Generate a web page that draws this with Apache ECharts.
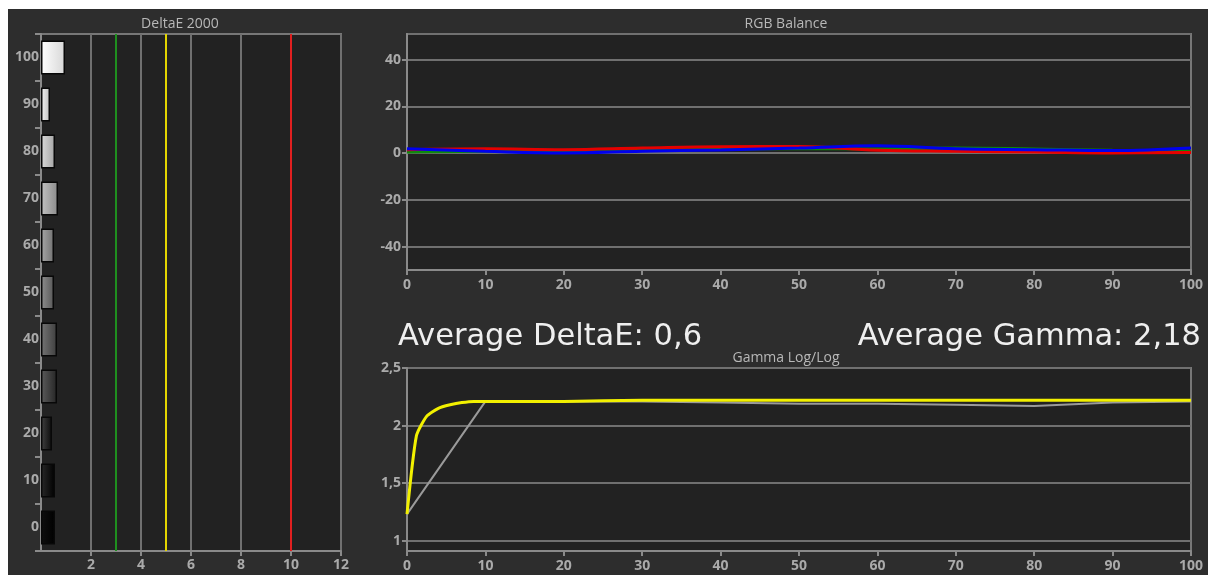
<!DOCTYPE html>
<html>
<head>
<meta charset="utf-8">
<script src="https://cdn.jsdelivr.net/npm/echarts@6/dist/echarts.min.js"></script>
<style>
  html, body { margin: 0; padding: 0; background: #ffffff; }
  #bg { position: absolute; left: 8px; top: 9px; width: 1200px; height: 566px; background: #2d2d2d; }
  #chart { position: absolute; left: 0; top: 0; width: 1208px; height: 575px; }
</style>
</head>
<body>
<div id="bg"></div>
<div id="chart"></div>
<script>
// ---- Data ----
const grayLevels = ['0', '10', '20', '30', '40', '50', '60', '70', '80', '90', '100'];
const deltaE = [0.56, 0.56, 0.44, 0.64, 0.64, 0.52, 0.52, 0.68, 0.56, 0.36, 0.96];
const deltaEThresholds = [3, 5, 10];

const rgbX = [0, 10, 20, 30, 40, 50, 60, 70, 80, 90, 100];
const rgbRed = [1.5, 1.9, 1.5, 2.2, 2.8, 2.9, 1.2, 0.8, 0.5, 0.1, 0.3];
const rgbGreen = [0.5, 0.8, 0.9, 1.3, 1.7, 2.0, 1.8, 2.2, 1.8, 1.2, 0.8];
const rgbBlue = [1.9, 0.8, 0.1, 0.8, 1.4, 2.2, 3.2, 1.9, 1.5, 1.1, 2.2];

const gammaMeasX = [0, 1.2, 2.5, 4, 5.5, 7, 8.5, 10, 20, 30, 40, 50, 60, 70, 80, 90, 100];
const gammaMeasY = [1.23, 1.91, 2.08, 2.15, 2.18, 2.2, 2.21, 2.21, 2.21, 2.22, 2.22, 2.22, 2.22, 2.22, 2.22, 2.22, 2.22];
const gammaRefX = [0, 10, 20, 30, 40, 50, 60, 70, 80, 90, 100];
const gammaRefY = [1.23, 2.21, 2.21, 2.21, 2.2, 2.19, 2.19, 2.18, 2.17, 2.2, 2.21];

const titles = ['DeltaE 2000', 'RGB Balance', 'Gamma Log/Log'];
const avgDeltaE = 'Average DeltaE: 0,6';
const avgGamma = 'Average Gamma: 2,18';

// ---- Styles ----
const labelStyle = { color: '#aaaaaa', fontFamily: 'Open Sans', fontWeight: 'bold', fontSize: 14 };
const axisGray = '#8a8a8a';
const splitGray = '#707070';

function grayHex(v) {
  v = Math.max(0, Math.min(255, Math.round(v)));
  const h = v.toString(16).padStart(2, '0');
  return '#' + h + h + h;
}

const chart = echarts.init(document.getElementById('chart'), null, { renderer: 'canvas' });

const barData = deltaE.map((v, i) => {
  const base = parseInt(grayLevels[i], 10) * 2.55;
  return {
    value: v,
    itemStyle: {
      color: new echarts.graphic.LinearGradient(0, 0, 1, 0, [
        { offset: 0, color: grayHex(base + 15) },
        { offset: 1, color: grayHex(base - 40) }
      ])
    }
  };
});

const thresholdColors = ['#1f8f1f', '#e3d400', '#e02020'];

function commaFmt(v) { return String(v).replace('.', ','); }

const option = {
  backgroundColor: 'transparent',
  animation: false,
  title: [
    { text: titles[0], left: 180, top: 17, textAlign: 'center', padding: 0,
      textStyle: { color: '#b8b8b8', fontFamily: 'Open Sans', fontWeight: 'normal', fontSize: 14 } },
    { text: titles[1], left: 786, top: 17, textAlign: 'center', padding: 0,
      textStyle: { color: '#b8b8b8', fontFamily: 'Open Sans', fontWeight: 'normal', fontSize: 14 } },
    { text: titles[2], left: 786, top: 351, textAlign: 'center', padding: 0,
      textStyle: { color: '#b8b8b8', fontFamily: 'Open Sans', fontWeight: 'normal', fontSize: 14 } },
    { text: avgDeltaE, left: 398, top: 322, padding: 0,
      textStyle: { color: '#efefef', fontFamily: 'DejaVu Sans', fontWeight: 'normal', fontSize: 30.5 } },
    { text: avgGamma, right: 7, top: 322, padding: 0,
      textStyle: { color: '#efefef', fontFamily: 'DejaVu Sans', fontWeight: 'normal', fontSize: 30.5 } }
  ],
  grid: [
    { left: 41, top: 34, width: 300, height: 517, show: true, backgroundColor: '#222222', borderColor: '#777', borderWidth: 2 },
    { left: 407, top: 34, width: 784, height: 236, show: true, backgroundColor: '#222222', borderColor: '#777', borderWidth: 2 },
    { left: 407, top: 368, width: 784, height: 183, show: true, backgroundColor: '#222222', borderColor: '#777', borderWidth: 2 }
  ],
  xAxis: [
    { type: 'value', gridIndex: 0, min: 0, max: 12, interval: 2,
      axisLine: { show: true, onZero: false, lineStyle: { color: axisGray, width: 2 } },
      axisTick: { show: true, length: 5, lineStyle: { color: axisGray, width: 2 } },
      axisLabel: Object.assign({ showMinLabel: false, margin: 7 }, labelStyle),
      splitLine: { show: true, lineStyle: { color: splitGray, width: 2 } } },
    { type: 'value', gridIndex: 1, min: 0, max: 100, interval: 10,
      axisLine: { show: true, onZero: false, lineStyle: { color: axisGray, width: 2 } },
      axisTick: { show: true, length: 5, lineStyle: { color: axisGray, width: 2 } },
      axisLabel: Object.assign({ margin: 8 }, labelStyle),
      splitLine: { show: false } },
    { type: 'value', gridIndex: 2, min: 0, max: 100, interval: 10,
      axisLine: { show: true, onZero: false, lineStyle: { color: axisGray, width: 2 } },
      axisTick: { show: true, length: 5, lineStyle: { color: axisGray, width: 2 } },
      axisLabel: Object.assign({ margin: 8 }, labelStyle),
      splitLine: { show: false } }
  ],
  yAxis: [
    { type: 'category', gridIndex: 0, data: grayLevels,
      axisLine: { show: true, onZero: false, lineStyle: { color: axisGray, width: 2 } },
      axisTick: { show: true, length: 6, lineStyle: { color: axisGray, width: 2 } },
      axisLabel: Object.assign({ margin: 2 }, labelStyle),
      splitLine: { show: false } },
    { type: 'value', gridIndex: 1, min: -50, max: 51, splitNumber: 5,
      axisLine: { show: true, onZero: false, lineStyle: { color: axisGray, width: 2 } },
      axisTick: { show: true, length: 5, lineStyle: { color: axisGray, width: 2 } },
      axisLabel: Object.assign({ margin: 6, showMinLabel: false, showMaxLabel: false }, labelStyle),
      splitLine: { show: true, lineStyle: { color: splitGray, width: 2 } } },
    { type: 'value', gridIndex: 2, min: 0.91, max: 2.5, splitNumber: 3,
      axisLine: { show: true, onZero: false, lineStyle: { color: axisGray, width: 2 } },
      axisTick: { show: true, length: 5, lineStyle: { color: axisGray, width: 2 } },
      axisLabel: Object.assign({ margin: 6, showMinLabel: false, formatter: commaFmt }, labelStyle),
      splitLine: { show: true, lineStyle: { color: splitGray, width: 2 } } }
  ],
  series: [
    { type: 'bar', xAxisIndex: 0, yAxisIndex: 0, data: barData, barWidth: 34,
      itemStyle: { borderColor: '#080808', borderWidth: 1.5 },
      markLine: {
        silent: true, symbol: ['none', 'none'], label: { show: false },
        lineStyle: { type: 'solid', width: 2 },
        data: deltaEThresholds.map((t, i) => ({ xAxis: t, lineStyle: { color: thresholdColors[i], type: 'solid', width: 2 } }))
      } },
    { type: 'line', xAxisIndex: 1, yAxisIndex: 1, data: rgbX.map((x, i) => [x, rgbGreen[i]]),
      smooth: 0.4, showSymbol: false, lineStyle: { color: '#0c8a0c', width: 3 } },
    { type: 'line', xAxisIndex: 1, yAxisIndex: 1, data: rgbX.map((x, i) => [x, rgbRed[i]]),
      smooth: 0.4, showSymbol: false, lineStyle: { color: '#e60000', width: 3 } },
    { type: 'line', xAxisIndex: 1, yAxisIndex: 1, data: rgbX.map((x, i) => [x, rgbBlue[i]]),
      smooth: 0.4, showSymbol: false, lineStyle: { color: '#0000ee', width: 3 } },
    { type: 'line', xAxisIndex: 2, yAxisIndex: 2, data: gammaRefX.map((x, i) => [x, gammaRefY[i]]),
      showSymbol: false, lineStyle: { color: '#9a9a9a', width: 2 } },
    { type: 'line', xAxisIndex: 2, yAxisIndex: 2, data: gammaMeasX.map((x, i) => [x, gammaMeasY[i]]),
      smooth: 0.2, showSymbol: false, lineStyle: { color: '#f2f000', width: 3 } }
  ]
};

chart.setOption(option);
</script>
</body>
</html>
